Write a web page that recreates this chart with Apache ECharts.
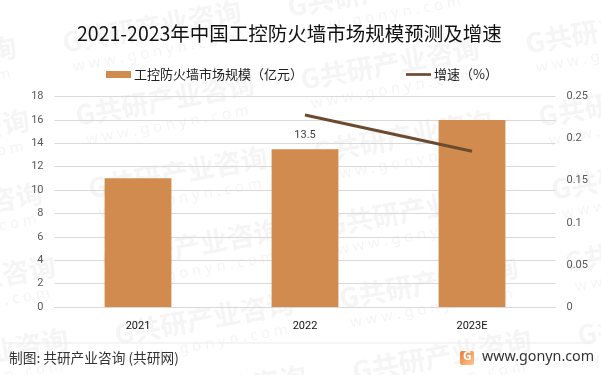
<!DOCTYPE html>
<html>
<head>
<meta charset="utf-8">
<style>
  html, body { margin: 0; padding: 0; background: #fff; }
  #chart { width: 601px; height: 375px; }
</style>
<script src="https://cdn.jsdelivr.net/npm/echarts@6/dist/echarts.min.js"></script>
</head>
<body>
<div id="chart"></div>
<script>
const categories = ['2021', '2022', '2023E'];
const marketSize = [11, 13.5, 16];
const growthRate = [null, 0.228, 0.185];
const labelledYears = ['2022'];

const cjk = '"Noto Sans CJK SC", "Noto Sans", sans-serif';
const latin = 'Roboto, "Noto Sans CJK SC", sans-serif';

// watermark tiles, lattice
function watermarks() {
  const tiles = [];
  for (let i = -2; i < 5; i++) {
    for (let j = -3; j < 6; j++) {
      const x = 78 + i * 225 + j * 13;
      const y = 128 - i * 36 + j * 73;
      tiles.push({
        type: 'group', x, y, rotation: 0.18, z: -1, silent: true,
        children: [
          { type: 'text', style: { text: 'G共研产业咨询', x: 0, y: -26, fill: '#f5f5f5',
            font: 'bold 27px "Noto Sans CJK SC"' } },
          { type: 'text', style: { text: 'w w w . g o n y n . c o m', x: 6, y: 6, fill: '#f5f5f5',
            font: '15px "Noto Sans"' } },
        ],
      });
    }
  }
  return tiles;
}

const footer = [
  { type: 'rect', shape: { x: 5, y: 342.5, width: 586, height: 1 }, style: { fill: '#ececec' } },
  { type: 'text', style: { text: '制图: 共研产业咨询 (共研网)', x: 9, y: 351, fill: '#333',
    font: '13.7px "Noto Sans CJK SC"' } },
  { type: 'rect', shape: { x: 460, y: 351, width: 14, height: 14, r: 2 },
    style: { fill: new echarts.graphic.LinearGradient(0, 0, 1, 1, [
      { offset: 0, color: '#f0783c' },
      { offset: 1, color: '#fbc98a' },
    ]) } },
  { type: 'text', style: { text: 'G', x: 463, y: 351, fill: '#fff', font: 'bold 12px "Noto Sans"' } },
  { type: 'text', style: { text: 'www.gonyn.com', x: 482, y: 350, fill: '#333', font: '14.3px "Noto Sans"' } },
];

const chart = echarts.init(document.getElementById('chart'), null, { renderer: 'canvas' });

chart.setOption({
  animation: false,
  backgroundColor: '#fff',
  title: {
    text: '2021-2023年中国工控防火墙市场规模预测及增速',
    left: 72,
    top: 19,
    textStyle: { fontFamily: cjk, fontSize: 19.5, fontWeight: 'normal', color: '#111' },
  },
  legend: {
    top: 63,
    left: 101,
    itemWidth: 25,
    itemHeight: 7,
    itemGap: 103,
    textStyle: { fontFamily: cjk, fontSize: 13, color: '#222', padding: [0, 0, 0, -2] },
    data: [
      { name: '工控防火墙市场规模（亿元）', icon: 'rect' },
      // flat bar, the empty subpaths keep the icon box taller than the stroke
      { name: '增速（%）', icon: 'path://M0,0L0,0M0,2H28V5H0ZM0,7L0,7' },
    ],
  },
  grid: { left: 54.5, right: 45.5, top: 96.5, bottom: 68 },
  xAxis: {
    type: 'category',
    data: categories,
    axisTick: { show: false },
    axisLine: { lineStyle: { color: '#d9d9d9', width: 1 } },
    axisLabel: { fontFamily: latin, fontSize: 11, color: '#111', margin: 14 },
  },
  yAxis: [
    {
      type: 'value', min: 0, max: 18, interval: 2,
      axisLine: { show: false }, axisTick: { show: false },
      splitLine: { lineStyle: { color: '#d9d9d9', width: 1 } },
      axisLabel: { fontFamily: latin, fontSize: 11, color: '#595959', margin: 11 },
    },
    {
      type: 'value', min: 0, max: 0.25, interval: 0.05,
      axisLine: { show: false }, axisTick: { show: false },
      splitLine: { show: false },
      axisLabel: { fontFamily: latin, fontSize: 11, color: '#595959', margin: 11 },
    },
  ],
  graphic: { elements: [...watermarks(), ...footer] },
  series: [
    {
      name: '工控防火墙市场规模（亿元）',
      type: 'bar',
      barWidth: '40%',
      itemStyle: { color: '#d18b4e' },
      data: marketSize.map((value, i) => ({
        value,
        label: {
          show: labelledYears.includes(categories[i]),
          position: 'top',
          distance: 8,
          fontFamily: latin,
          fontSize: 11,
          color: '#404040',
        },
      })),
    },
    {
      name: '增速（%）',
      type: 'line',
      yAxisIndex: 1,
      showSymbol: false,
      symbol: 'none',
      lineStyle: { color: '#6b4a30', width: 3 },
      itemStyle: { color: '#6b4a30' },
      data: growthRate,
    },
  ],
});
</script>
</body>
</html>
